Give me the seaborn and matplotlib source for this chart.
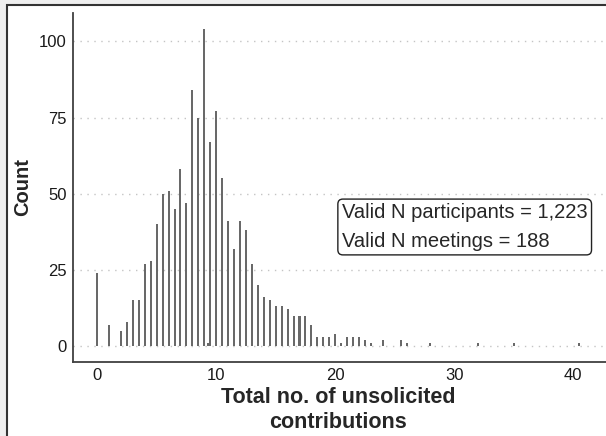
import matplotlib
matplotlib.use("Agg")
import matplotlib.pyplot as plt
import seaborn as sns
from matplotlib.patches import Rectangle

# values of the measure (bar positions) and number of participants per value
contributions = [0, 1, 2, 2.5, 3, 3.5, 4, 4.5, 5, 5.5, 6, 6.5, 7, 7.5, 8, 8.5, 9,
                 9.33, 9.5, 10, 10.5, 11, 11.5, 12, 12.5, 13, 13.5, 14, 14.5, 15,
                 15.5, 16, 16.5, 17, 17.5, 18, 18.5, 19, 19.5, 20, 20.5, 21, 21.5,
                 22, 22.5, 23, 24, 25.5, 26, 28, 32, 35, 40.5]
counts = [24, 7, 5, 8, 15, 15, 27, 28, 40, 50, 51, 45, 58, 47, 84, 75, 104,
          1, 67, 77, 55, 41, 32, 41, 38, 27, 20, 16, 15, 13,
          13, 12, 10, 10, 10, 7, 3, 3, 3, 4, 1, 3, 3,
          3, 2, 1, 2, 2, 1, 1, 1, 1, 1]

x_ticks = [0, 10, 20, 30, 40]
y_ticks = [0, 25, 50, 75, 100]
note_lines = ["Valid N participants = 1,223", "Valid N meetings = 188"]

sns.set_style("white")
plt.rcParams["font.family"] = ["Liberation Sans", "DejaVu Sans"]

fig = plt.figure(figsize=(6.06, 4.36), dpi=100, facecolor="#efefef")
# white panel with a dark frame on the left and top
fig.patches.append(Rectangle((7 / 606, -0.05), 1.2, (436 - 5) / 436 + 0.05,
                             transform=fig.transFigure, facecolor="white",
                             edgecolor="#333333", linewidth=1.5, zorder=-10))

ax = fig.add_axes([73 / 606, 74 / 436, 533 / 606, 349 / 436])
ax.set_facecolor("none")
ax.set_zorder(1)

sns.barplot(x=contributions, y=counts, native_scale=True, orient="x",
            width=1.0, color="#696969", saturation=1, errorbar=None,
            linewidth=0, ax=ax)

ax.set_xlim(-2.03, 42.75)
ax.set_ylim(-5.25, 109.3)
ax.set_xticks(x_ticks)
ax.set_yticks(y_ticks)

ax.yaxis.grid(True, linestyle=(0, (1, 4)), color="#c4c4c4", linewidth=1)
ax.xaxis.grid(False)
ax.set_axisbelow(True)

for side in ["top", "right"]:
    ax.spines[side].set_visible(False)
for side in ["left", "bottom"]:
    ax.spines[side].set_color("#404040")
    ax.spines[side].set_linewidth(1.3)

ax.tick_params(axis="both", direction="out", length=3, width=1.1,
               color="#404040", labelsize=12, labelcolor="#1a1a1a", pad=1.5)

ax.set_xlabel("Total no. of unsolicited\ncontributions", fontsize=15.5,
              fontweight="bold", linespacing=1.25)
ax.set_ylabel("Count", fontsize=14.5, fontweight="bold")
ax.xaxis.set_label_coords(0.498, -0.072)
ax.yaxis.set_label_coords(-0.077, 0.5)

ax.text(20.56, 46.9, "\n".join(note_lines), fontsize=14.5, ha="left", va="top",
        linespacing=1.65,
        bbox=dict(boxstyle="round,pad=0.2,rounding_size=0.25",
                  facecolor="white", edgecolor="#222222", linewidth=1))

fig.savefig("out.png", dpi=100, facecolor=fig.get_facecolor())
